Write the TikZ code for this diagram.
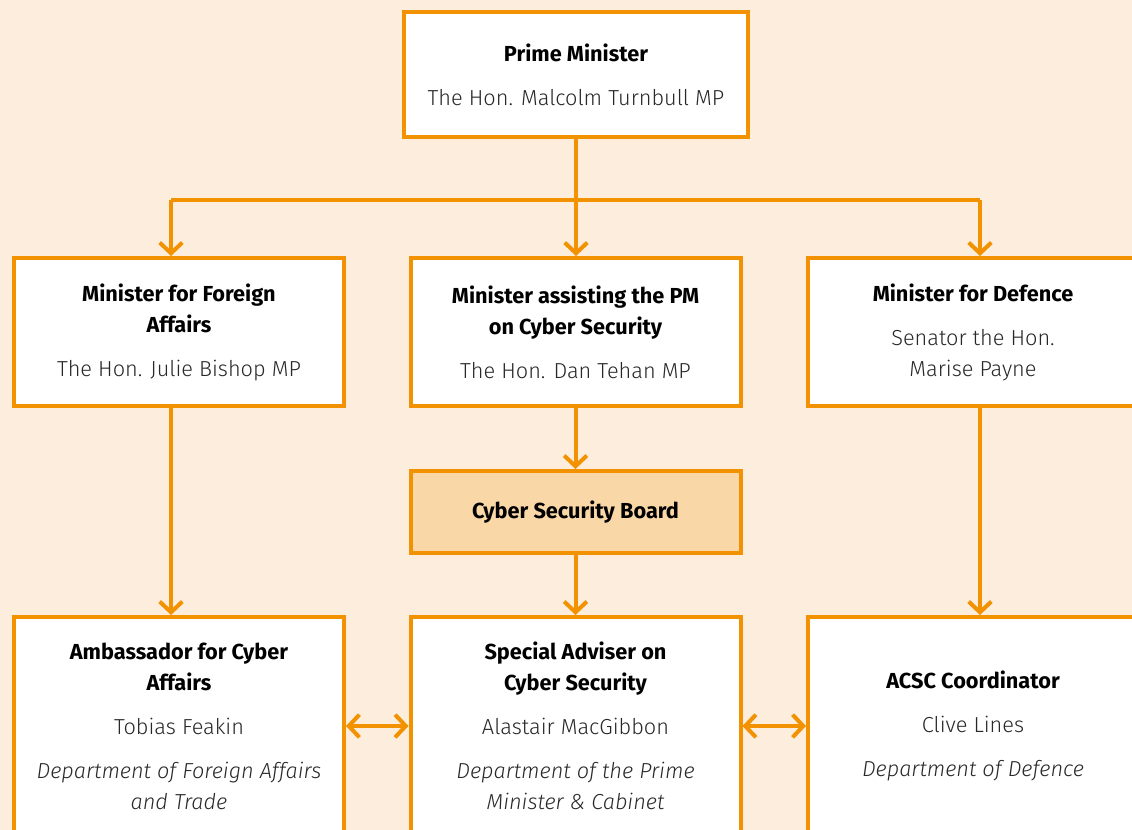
\documentclass[tikz,border=0pt]{standalone}
\usepackage{fontspec}
\setmainfont{Fira Sans}[UprightFont={* Light},ItalicFont={* Light Italic},BoldFont={* Bold}]
\usetikzlibrary{arrows.meta}
\definecolor{bg}{RGB}{252,237,220}
\definecolor{line}{RGB}{243,146,0}
\definecolor{board}{RGB}{250,215,167}
\definecolor{txt}{RGB}{40,40,40}
\newcommand{\ttl}[1]{{\color{black}\bfseries #1}}
\begin{document}
\begin{tikzpicture}[x=0.75pt,y=-0.75pt,
  box/.style={draw=line,line width=3pt,fill=white,align=center,text=txt,
    font=\fontsize{16.3}{23.25}\selectfont,minimum width=247.5pt},
  link/.style={draw=line,line width=3pt,-{Straight Barb[length=8pt,width=17pt]}},
  both/.style={link,{Straight Barb[length=8pt,width=17pt]}-{Straight Barb[length=8pt,width=17pt]}}]
\fill[bg](0,0)rectangle(1132,830);
\useasboundingbox(0,0)rectangle(1132,830);
% top
\node[box,minimum width=258pt,minimum height=93.75pt](pm)at(576,74.5)
  {\ttl{Prime Minister}\\[9.75pt]The Hon. Malcolm Turnbull MP};
% ministers
\node[box,minimum height=111pt](fa)at(179,332)
  {\ttl{Minister for Foreign}\\\ttl{Affairs}\\[9.75pt]The Hon. Julie Bishop MP};
\node[box,minimum height=111pt](mc)at(575.5,332)
  {\ttl{Minister assisting the PM}\\\ttl{on Cyber Security}\\[9.75pt]The Hon. Dan Tehan MP};
\node[box,minimum height=111pt](md)at(973,332)
  {\ttl{Minister for Defence}\\[9.75pt]Senator the Hon.\\Marise Payne};
\node[box,fill=board,minimum height=61.5pt](cb)at(575.5,512){\ttl{Cyber Security Board}};
% officials
\node[box,minimum height=163.5pt](amb)at(179,726)
  {\ttl{Ambassador for Cyber}\\\ttl{Affairs}\\[9.75pt]Tobias Feakin\\[9.75pt]
   \itshape Department of Foreign Affairs\\\itshape and Trade};
\node[box,minimum height=163.5pt](sa)at(575.5,726)
  {\ttl{Special Adviser on}\\\ttl{Cyber Security}\\[9.75pt]Alastair MacGibbon\\[9.75pt]
   \itshape Department of the Prime\\\itshape Minister \& Cabinet};
\node[box,minimum height=163.5pt](acsc)at(973,726)
  {\ttl{ACSC Coordinator}\\[9.75pt]Clive Lines\\[9.75pt]\itshape Department of Defence};
% links
\coordinate(jl)at(171,200);
\coordinate(jr)at(980,200);
\draw[link](pm.south)--(pm.south|-mc.north);
\draw[line,line width=3pt](jl)--(jr);
\draw[link](jl)--(jl|-fa.north);
\draw[link](jr)--(jr|-md.north);
\draw[link](mc.south)--(cb.north);
\draw[link](cb.south)--(sa.north);
\draw[link](jl|-fa.south)--(jl|-amb.north);
\draw[link](jr|-md.south)--(jr|-acsc.north);
\draw[both](amb.east)--(sa.west);
\draw[both](sa.east)--(acsc.west);
\end{tikzpicture}
\end{document}
